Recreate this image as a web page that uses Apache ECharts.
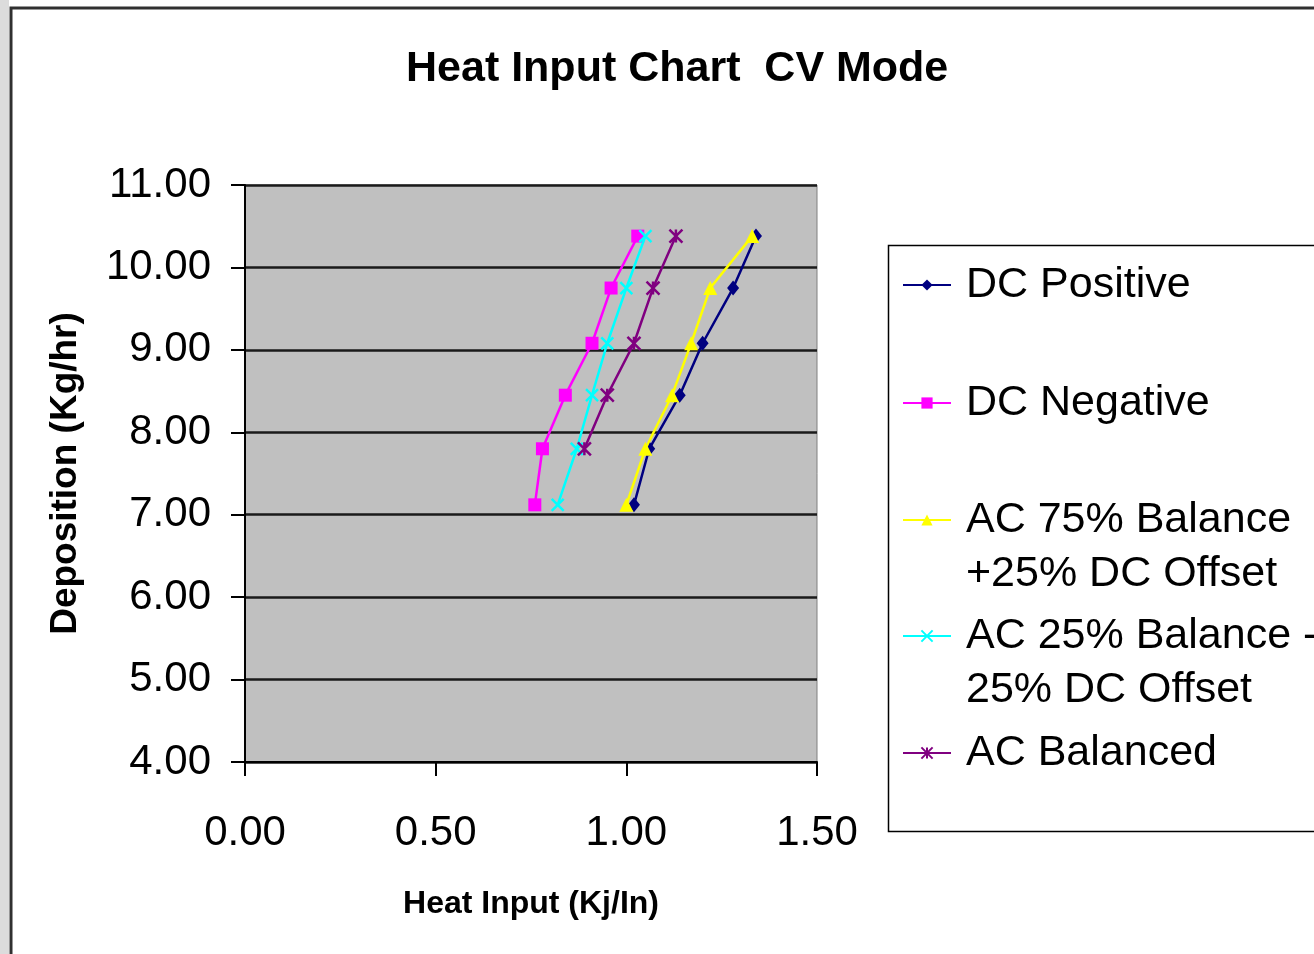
<!DOCTYPE html>
<html>
<head>
<meta charset="utf-8">
<script src="https://cdn.jsdelivr.net/npm/echarts@6/dist/echarts.min.js"></script>
<style>
  html, body { margin: 0; padding: 0; background: #ffffff; }
  #chart { width: 1314px; height: 954px; }
</style>
</head>
<body>
<div id="chart"></div>
<script>
// ---- Data ----
const titleText = 'Heat Input Chart  CV Mode';
const xAxisName = 'Heat Input (Kj/In)';
const yAxisName = 'Deposition (Kg/hr)';

const seriesNames = [
  'DC Positive',
  'DC Negative',
  'AC 75% Balance +25% DC Offset',
  'AC 25% Balance -25% DC Offset',
  'AC Balanced'
];
const legendLines = [
  ['DC Positive'],
  ['DC Negative'],
  ['AC 75% Balance', '+25% DC Offset'],
  ['AC 25% Balance -', '25% DC Offset'],
  ['AC Balanced']
];

// Deposition (Kg/hr) for each point
const depositionY = [7.12, 7.80, 8.45, 9.08, 9.75, 10.38];
// Heat input (Kj/In) per series
const dcPositiveX = [1.02, 1.06, 1.14, 1.20, 1.28, 1.34];
const dcNegativeX = [0.76, 0.78, 0.84, 0.91, 0.96, 1.03];
const ac75X      = [1.00, 1.05, 1.12, 1.17, 1.22, 1.33];
const ac25X      = [0.82, 0.87, 0.91, 0.95, 1.00, 1.05];
const acBalX     = [null, 0.89, 0.95, 1.02, 1.07, 1.13];

const xTicks = { min: 0, max: 1.5, interval: 0.5 };
const yTicks = { min: 4, max: 11, interval: 1 };

// ---- Build ----
const FONT = "'Liberation Sans', Arial, sans-serif";
function pairs(xs, ys) {
  const out = [];
  xs.forEach((x, i) => { if (x != null) out.push([x, ys[i]]); });
  return out;
}
const colors = ['#000080', '#FF00FF', '#FFFF00', '#00FFFF', '#800080'];
const symbols = [
  'diamond',
  'rect',
  'triangle',
  'path://M0,0L10,10M10,0L0,10',
  'path://M0,0L10,10M10,0L0,10M5,0L5,10'
];
const symbolSizes = [[12, 15], 13, 14, 12, 13];
const xs = [dcPositiveX, dcNegativeX, ac75X, ac25X, acBalX];

const series = seriesNames.map((name, i) => {
  const isPath = symbols[i].startsWith('path://');
  return {
    name: name,
    type: 'line',
    data: pairs(xs[i], depositionY),
    symbol: symbols[i],
    symbolSize: symbolSizes[i],
    showSymbol: true,
    lineStyle: { color: colors[i], width: 2.5 },
    itemStyle: isPath
      ? { color: colors[i], borderColor: colors[i], borderWidth: 2.5 }
      : { color: colors[i], borderWidth: 0 },
    emphasis: { disabled: true },
    animation: false,
    z: 3 + i
  };
});

const legendCenters = [285, 403, 520, 636, 753];
const LH = 54;
const legends = seriesNames.map((name, i) => {
  const two = legendLines[i].length > 1;
  // two-line entries: a blank first line keeps the icon level with the first text line
  const text = two ? ' \n' + legendLines[i].join('\n') : legendLines[i][0];
  return {
    data: [name],
    left: 902,
    top: two ? legendCenters[i] - LH * 1.5 : legendCenters[i] - LH / 2,
    padding: 0,
    orient: 'vertical',
    itemWidth: 48,
    itemHeight: 14,
    selectedMode: false,
    formatter: () => text,
    textStyle: {
      fontFamily: FONT,
      fontSize: 43,
      color: '#000',
      lineHeight: LH,
      padding: [0, 0, 0, 10]
    }
  };
});

const option = {
  backgroundColor: '#ffffff',
  animation: false,
  title: {
    text: titleText,
    left: 401,
    top: 43,
    textStyle: { fontFamily: FONT, fontSize: 43, fontWeight: 'bold', color: '#000' }
  },
  legend: legends,
  grid: {
    left: 245, right: 1314 - 817, top: 185, bottom: 954 - 762,
    show: true, backgroundColor: '#C0C0C0', borderColor: '#808080', borderWidth: 1,
    containLabel: false
  },
  xAxis: {
    type: 'value',
    min: xTicks.min, max: xTicks.max, interval: xTicks.interval,
    name: xAxisName,
    nameLocation: 'middle',
    nameGap: 126,
    nameTextStyle: { fontFamily: FONT, fontSize: 32, fontWeight: 'bold', color: '#000' },
    axisLine: { show: true, onZero: false, lineStyle: { color: '#000', width: 2 } },
    axisTick: { show: true, inside: false, length: 14, lineStyle: { color: '#000', width: 2 } },
    axisLabel: { fontFamily: FONT, fontSize: 42, color: '#000', margin: 50, formatter: v => v.toFixed(2) },
    splitLine: { show: false }
  },
  yAxis: {
    type: 'value',
    min: yTicks.min, max: yTicks.max, interval: yTicks.interval,
    name: yAxisName,
    nameLocation: 'middle',
    nameGap: 161,
    nameTextStyle: { fontFamily: FONT, fontSize: 37, fontWeight: 'bold', color: '#000' },
    axisLine: { show: true, onZero: false, lineStyle: { color: '#000', width: 2 } },
    axisTick: { show: true, inside: false, length: 14, lineStyle: { color: '#000', width: 2 } },
    axisLabel: { fontFamily: FONT, fontSize: 42, color: '#000', margin: 34, padding: [8, 0, 0, 0], formatter: v => v.toFixed(2) },
    splitLine: { show: true, lineStyle: { color: '#1a1a1a', width: 2.5 } }
  },
  graphic: [
    { type: 'rect', silent: true, z: -10, shape: { x: 0, y: 0, width: 9, height: 954 }, style: { fill: '#dcdcdc' } },
    { type: 'rect', silent: true, z: -9, shape: { x: 11, y: 8, width: 1400, height: 1000 },
      style: { fill: '#ffffff', stroke: '#303030', lineWidth: 3 } },
    { type: 'rect', silent: true, z: -8, shape: { x: 888.5, y: 245.5, width: 500, height: 586 },
      style: { fill: '#ffffff', stroke: '#000000', lineWidth: 1.5 } }
  ],
  series: series
};

const chart = echarts.init(document.getElementById('chart'), null, { renderer: 'canvas' });
chart.setOption(option);
</script>
</body>
</html>
